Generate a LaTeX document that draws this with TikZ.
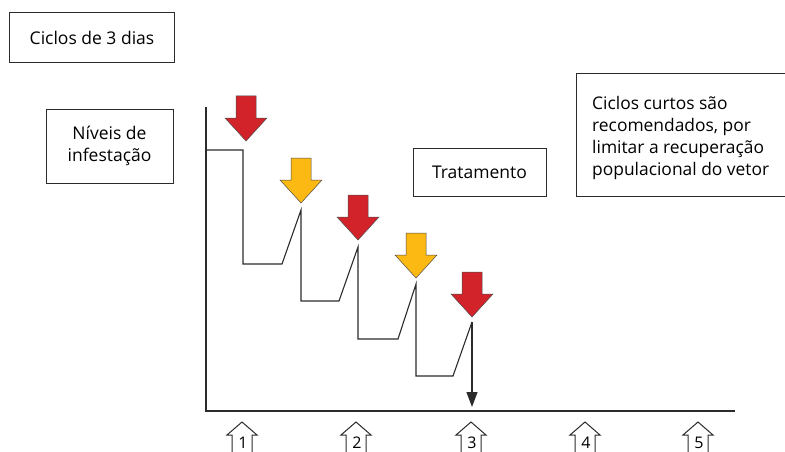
\documentclass[tikz,border=0pt]{standalone}
\usepackage{fontspec}
\setmainfont{Open Sans}
\usetikzlibrary{arrows.meta}
\definecolor{redarr}{HTML}{D2232A}
\definecolor{yelarr}{HTML}{FDB913}
\definecolor{lin}{HTML}{2B2B2B}
\begin{document}
\begin{tikzpicture}[x=1pt,y=-1pt,
  box/.style={draw=lin,line width=1pt,inner sep=0pt,align=center,font=\fontsize{17.5}{22}\selectfont},
  txt/.style={inner sep=0pt,align=left,font=\fontsize{17.4}{22}\selectfont},
  graphline/.style={draw=lin,line width=1.1pt},
  axis/.style={draw=lin},
  blockarrow/.style={draw=black!70,line width=0.5pt},
  upoutline/.style={draw=lin,line width=1pt},
  num/.style={inner sep=0pt,font=\fontsize{16}{18}\selectfont}]
\useasboundingbox (0,0) rectangle (785,452);
% boxes
\node[box,minimum width=165pt,minimum height=50pt] (cic) at (92,38) {Ciclos de 3 dias};
\node[box,minimum width=127pt,minimum height=74pt] (niv) at (109.5,146) {Níveis de\\infestação};
\node[box,minimum width=133pt,minimum height=48pt] (trat) at (479.5,172) {Tratamento};
\node[box,minimum width=220pt,minimum height=123pt,anchor=north west] (rec) at (576,73) {};
\node[txt,anchor=north west] (rectxt) at (592,96) {Ciclos curtos são\\recomendados, por\\limitar a recuperação\\populacional do vetor};
% axes
\coordinate (ytop) at (206,107);
\coordinate (orig) at (206,411);
\coordinate (xend) at (735,411);
\draw[axis,line width=1.8pt] (ytop) -- (orig);
\draw[axis,line width=2.4pt] (205.1,411) -- (xend);
% infestation curve
\coordinate (p0) at (206,150);
\coordinate (last) at (472,322);
\coordinate (end) at (472,407);
\draw[graphline] (p0) -- (243,150) -- (243,264) -- (282,264) -- (301,210) -- (301,301)
  -- (339,301) -- (358,247) -- (358,339) -- (398,339) -- (416,284) -- (416,376)
  -- (453,376) -- (last);
\draw[graphline,-{Triangle[width=11pt,length=15pt]}] (last) -- (end);
% treatment arrows
\foreach \c/\t/\col in {246/141/redarr,301/203/yelarr,358/240/redarr,416/278/yelarr,472/317/redarr}{
  \draw[blockarrow,fill=\col] ({\c-10},{\t-45}) -- ({\c+10},{\t-45}) -- ({\c+10},{\t-23})
    -- ({\c+21},{\t-23}) -- (\c,\t) -- ({\c-21},{\t-23}) -- ({\c-10},{\t-23}) -- cycle;
}
% cycle markers
\foreach \c/\n in {242/1,356/2,471/3,585/4,698/5}{
  \draw[upoutline] ({\c-10},452) -- ({\c-10},435) -- ({\c-15},435) -- (\c,422)
    -- ({\c+15},435) -- ({\c+10},435) -- ({\c+10},452);
  \node[num] (n\n) at ({\c+1},443) {\n};
}
\end{tikzpicture}
\end{document}
